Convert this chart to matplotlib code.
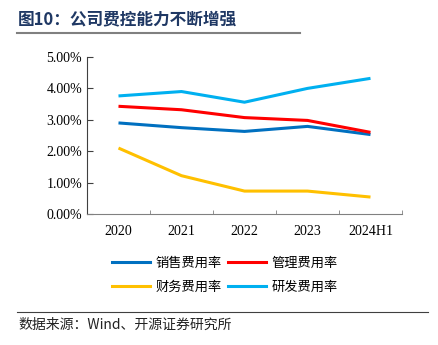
import matplotlib.pyplot as plt
from matplotlib.lines import Line2D
from matplotlib.ticker import FuncFormatter, FixedLocator

plt.rcParams['font.family'] = ['Liberation Serif', 'Noto Sans CJK SC', 'DejaVu Sans']

# expense ratios (%)
years = ['2020', '2021', '2022', '2023', '2024H1']
sales = [2.90, 2.75, 2.63, 2.79, 2.53]
admin = [3.43, 3.32, 3.07, 2.98, 2.60]
finance = [2.10, 1.22, 0.73, 0.73, 0.54]
rnd = [3.76, 3.90, 3.56, 4.00, 4.32]

names = ['销售费用率', '管理费用率', '财务费用率', '研发费用率']
colors = ['#0070C0', '#FF0000', '#FFC000', '#00B0F0']

fig = plt.figure(figsize=(4.38, 3.45), dpi=100)
ax = fig.add_axes([0.1986, 0.3797, 0.7192, 0.4551])

x = range(len(years))
lines = []
for vals, c, n in zip([sales, admin, finance, rnd], colors, names):
    ln, = ax.plot(x, vals, color=c, lw=2.2, label=n, solid_capstyle='butt')
    lines.append(ln)

ax.set_xlim(-0.5, len(years) - 0.5)
ax.set_ylim(0, 5)
ax.set_yticks([0, 1, 2, 3, 4, 5])
ax.yaxis.set_major_formatter(FuncFormatter(lambda v, p: f'{v:.2f}%'))
ax.set_xticks(list(x))
ax.set_xticklabels(years)
ax.xaxis.set_minor_locator(FixedLocator([i - 0.5 for i in range(len(years) + 1)]))
ax.tick_params(axis='x', which='major', length=0, pad=8, labelsize=10)
ax.tick_params(axis='x', which='minor', direction='in', length=3, color='#808080')
ax.tick_params(axis='y', direction='in', length=4, labelsize=10, color='#404040')
for s in ['top', 'right']:
    ax.spines[s].set_visible(False)
ax.spines['left'].set_color('#404040')
ax.spines['bottom'].set_color('#808080')

# legend fills by column, so order entries to read row by row
order = [0, 2, 1, 3]
handles = [Line2D([], [], color=colors[i], lw=2.2) for i in order]
labels = [names[i] for i in order]
fig.legend(handles, labels, loc='center', bbox_to_anchor=(0.513, 0.202), ncol=2,
           frameon=False, prop={'family': ['Noto Sans CJK SC'], 'size': 9.5},
           handlelength=2.9, handletextpad=0.4, columnspacing=0.5, labelspacing=0.85)

# title and source
fig.text(0.041, 0.945, '图10：公司费控能力不断增强', fontsize=12, fontweight='bold',
         color='#1F3864', family=['Noto Sans CJK SC'], va='center')
fig.add_artist(Line2D([0.039, 0.685], [0.904, 0.904], color='#808080', lw=1.5))
fig.add_artist(Line2D([0.039, 0.978], [0.096, 0.096], color='#404040', lw=0.8))
fig.text(0.041, 0.058, '数据来源：Wind、开源证券研究所', fontsize=10,
         family=['Noto Sans CJK SC'], va='center', color='#222222')

fig.savefig('out.png', dpi=100)
